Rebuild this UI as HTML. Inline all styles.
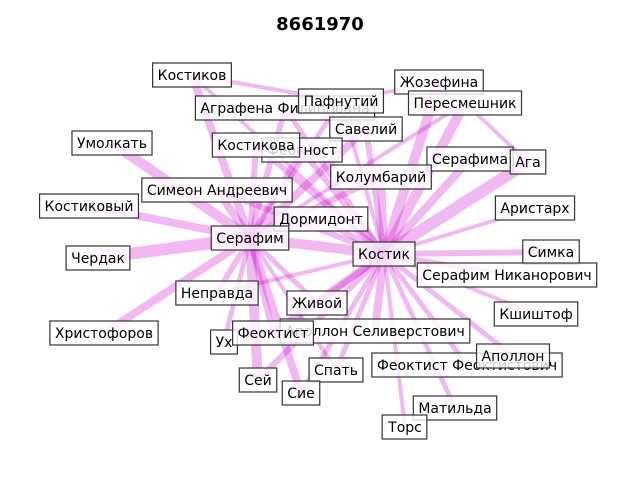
<!DOCTYPE html>
<html><head><meta charset="utf-8"><style>
body{margin:0;background:#fff}
svg{display:block}
</style></head><body>
<svg id="chart" width="640" height="480" xmlns="http://www.w3.org/2000/svg">
<rect width="640" height="480" fill="#fff"/>
<text x="320" y="30" text-anchor="middle" font-family="DejaVu Sans, Liberation Sans, sans-serif" font-size="18" font-weight="bold">8661970</text>
<g id="edges"></g>
<g id="nodes"></g>
</svg>
<script>
const nodeNames = ["Костиков","Аграфена Филипповна","Пафнутий","Жозефина","Пересмешник","Савелий","Феогност","Костикова","Умолкать","Серафима","Ага","Колумбарий","Симеон Андреевич","Костиковый","Аристарх","Дормидонт","Серафим","Чердак","Костик","Симка","Серафим Никанорович","Неправда","Живой","Христофоров","Кшиштоф","Ух","Аполлон Селиверстович","Феоктист","Сей","Спать","Сие","Феоктист Феоктистович","Аполлон","Матильда","Торс"];
const nodeX = [192,285,341,439,465,366,302,256,112,470,528,381,217,89,535,321,250,98,384,551,507,217,317,104,536,224,375,273,258,336,301,467,513,455,405];
const nodeY = [75,108,101,82,103,129,150,145,143,159,162,177,190,206,208,219,238,258,254,252,275,293,303,333,314,342,331,333,380,370,393,365,356,408,427];
const edgeSource = ["Серафим","Серафим","Серафим","Серафим","Серафим","Серафим","Серафим","Серафим","Серафим","Серафим","Серафим","Серафим","Серафим","Серафим","Серафим","Серафим","Серафим","Серафим","Серафим","Серафим","Серафим","Серафим",
"Костик","Костик","Костик","Костик","Костик","Костик","Костик","Костик","Костик","Костик","Костик","Костик","Костик","Костик","Костик","Костик","Костик","Костик","Костик","Костик","Костик","Костик","Костик","Костик","Костик","Костик","Костик","Костик",
"Костиков","Жозефина","Пересмешник"];
const edgeTarget = ["Костиков","Аграфена Филипповна","Пафнутий","Савелий","Костикова","Феогност","Умолкать","Симеон Андреевич","Костиковый","Чердак","Дормидонт","Костик","Неправда","Христофоров","Ух","Феоктист","Сей","Сие","Живой","Спать","Колумбарий","Пересмешник",
"Жозефина","Пересмешник","Савелий","Костикова","Феогност","Пафнутий","Серафима","Ага","Колумбарий","Аристарх","Симка","Серафим Никанорович","Кшиштоф","Аполлон Селиверстович","Феоктист Феоктистович","Аполлон","Матильда","Торс","Спать","Сие","Сей","Живой","Дормидонт","Симеон Андреевич","Аграфена Филипповна","Костиков","Неправда","Феоктист",
"Пафнутий","Пафнутий","Ага"];
const edgeWidth = [8,6,5,8,6,6,10,8,8,12,6,10,6,8,5,6,10,8,5,4,6,4,
10,10,6,6,6,4,8,12,8,4,6,5,4,8,5,5,5,4,5,5,6,6,6,6,5,4,4,8,
4,4,4];

const NS="http://www.w3.org/2000/svg";
const eg=document.getElementById('edges'), ng=document.getElementById('nodes');
function idx(n){return nodeNames.indexOf(n);}
for(let i=0;i<edgeSource.length;i++){
  const a=idx(edgeSource[i]), b=idx(edgeTarget[i]);
  const l=document.createElementNS(NS,'line');
  l.setAttribute('x1',nodeX[a]);l.setAttribute('y1',nodeY[a]);
  l.setAttribute('x2',nodeX[b]);l.setAttribute('y2',nodeY[b]);
  l.setAttribute('stroke','rgb(204,0,204)');l.setAttribute('stroke-opacity','0.28');
  l.setAttribute('stroke-width',edgeWidth[i]);
  
  
  eg.appendChild(l);
}
for(let i=0;i<nodeNames.length;i++){
  const g=document.createElementNS(NS,'g');
  
  
  const r=document.createElementNS(NS,'rect');
  const t=document.createElementNS(NS,'text');
  t.setAttribute('x',nodeX[i]);t.setAttribute('y',nodeY[i]+5);
  t.setAttribute('text-anchor','middle');
  t.setAttribute('font-family','DejaVu Sans, Liberation Sans, sans-serif');
  t.setAttribute('font-size','14');
  t.textContent=nodeNames[i];
  g.appendChild(r);g.appendChild(t);ng.appendChild(g);
  const bb=t.getBBox();
  r.setAttribute('x',bb.x-5);r.setAttribute('y',nodeY[i]-12);
  r.setAttribute('width',bb.width+10);r.setAttribute('height',24);
  r.setAttribute('fill','#fff');r.setAttribute('fill-opacity','0.8');
  r.setAttribute('stroke','#333');r.setAttribute('stroke-width','1.2');
}
</script>
</body></html>
